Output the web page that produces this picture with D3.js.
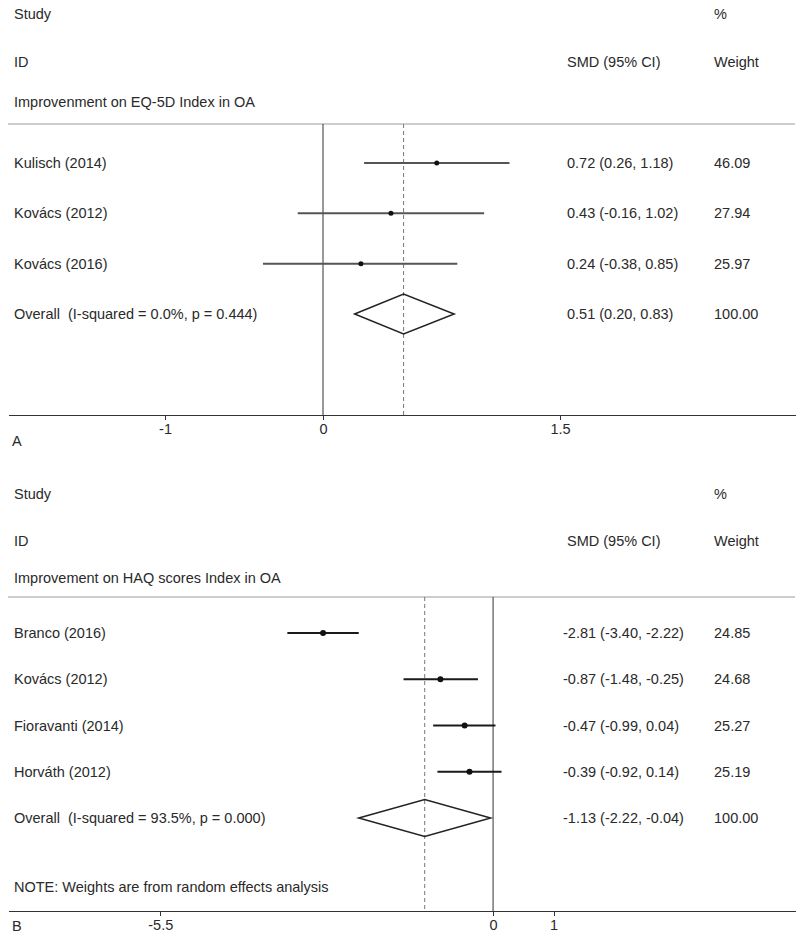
<!DOCTYPE html>
<html lang="en">
<head>
    <meta charset="UTF-8">
    <title>Forest plot</title>
    <script src="https://cdn.jsdelivr.net/npm/d3@7"></script>
</head>
<body>
<style>
    body {
        margin: 0;
        background-color: white;
    }
    svg text {
        font-family: "Liberation Sans", Arial, sans-serif;
        font-size: 14.5px;
        fill: #2a2a2a;
        white-space: pre;
    }
    .sep {
        stroke: #bdbdbd;
        stroke-width: 1.5;
    }
    .axis path,
    .axis line {
        stroke: #333;
        shape-rendering: crispEdges;
    }
    .zero {
        stroke: #333;
        stroke-width: 1;
    }
    .overallLine {
        stroke: #777;
        stroke-dasharray: 4, 3;
    }
    .diamond {
        fill: none;
        stroke: #222;
        stroke-width: 1.5;
    }
</style>

<svg width="800" height="937"></svg>

<script>
    // panel A - EQ-5D
    var studiesA = ["Kulisch (2014)", "Kovács (2012)", "Kovács (2016)"];
    var smdA = [0.72, 0.43, 0.24];
    var lowA = [0.26, -0.16, -0.38];
    var highA = [1.18, 1.02, 0.85];
    var weightA = [46.09, 27.94, 25.97];
    var overallA = [0.51, 0.20, 0.83];
    var overallLabelA = "Overall  (I-squared = 0.0%, p = 0.444)";
    var ticksA = [-1, 0, 1.5];

    // panel B - HAQ
    var studiesB = ["Branco (2016)", "Kovács (2012)", "Fioravanti (2014)", "Horváth (2012)"];
    var smdB = [-2.81, -0.87, -0.47, -0.39];
    var lowB = [-3.40, -1.48, -0.99, -0.92];
    var highB = [-2.22, -0.25, 0.04, 0.14];
    var weightB = [24.85, 24.68, 25.27, 25.19];
    var overallB = [-1.13, -2.22, -0.04];
    var overallLabelB = "Overall  (I-squared = 93.5%, p = 0.000)";
    var ticksB = [-5.5, 0, 1];

    var svg = d3.select("svg");

    // plain hyphen minus, like the stata output
    function f2(v) {
        return v.toFixed(2);
    }

    function ciText(m, lo, hi) {
        return f2(m) + " (" + f2(lo) + ", " + f2(hi) + ")";
    }

    function drawPanel(p) {
        var g = svg.append("g").attr("transform", "translate(0," + p.top + ")");
        var x = d3.scaleLinear().domain(p.domain).range([8, 795]);
        var rows = p.studies.concat([p.overallLabel]);
        var y = d3.scalePoint().domain(d3.range(rows.length)).range(p.rowRange);

        // headers
        g.append("text").attr("x", 14).attr("y", 14).attr("dy", "0.35em").text("Study");
        g.append("text").attr("x", 714).attr("y", 14).attr("dy", "0.35em").text("%");
        g.append("text").attr("x", 14).attr("y", p.idY).attr("dy", "0.35em").text("ID");
        g.append("text").attr("x", 567).attr("y", p.idY).attr("dy", "0.35em").text("SMD (95% CI)");
        g.append("text").attr("x", 714).attr("y", p.idY).attr("dy", "0.35em").text("Weight");
        g.append("text").attr("x", 14).attr("y", p.subY).attr("dy", "0.35em").text(p.subtitle);

        g.append("line").attr("class", "sep")
                .attr("x1", 8).attr("x2", 795)
                .attr("y1", p.sepY).attr("y2", p.sepY);

        // zero line and overall effect line
        g.append("line").attr("class", "zero")
                .attr("x1", x(0)).attr("x2", x(0))
                .attr("y1", p.sepY).attr("y2", p.axisY);
        g.append("line").attr("class", "overallLine")
                .attr("x1", x(p.overall[0])).attr("x2", x(p.overall[0]))
                .attr("y1", p.sepY).attr("y2", p.axisY);

        // confidence intervals
        p.studies.forEach(function (s, i) {
            g.append("line")
                    .attr("x1", x(p.low[i])).attr("x2", x(p.high[i]))
                    .attr("y1", y(i)).attr("y2", y(i))
                    .attr("stroke", p.ciColor)
                    .attr("stroke-width", 2);
            g.append("circle")
                    .attr("cx", x(p.smd[i])).attr("cy", y(i))
                    .attr("r", p.dotR)
                    .attr("fill", "#111");
        });

        // diamond
        var oy = y(p.studies.length);
        var o = p.overall;
        g.append("path").attr("class", "diamond")
                .attr("d", "M" + x(o[1]) + "," + oy +
                        "L" + x(o[0]) + "," + (oy - p.dh) +
                        "L" + x(o[2]) + "," + oy +
                        "L" + x(o[0]) + "," + (oy + p.dh) + "Z");

        // labels and numbers
        rows.forEach(function (r, i) {
            var isOverall = i === p.studies.length;
            g.append("text").attr("x", 14).attr("y", y(i)).attr("dy", "0.35em").text(r);
            g.append("text").attr("x", p.ciX).attr("y", y(i)).attr("dy", "0.35em")
                    .text(isOverall ? ciText(o[0], o[1], o[2]) : ciText(p.smd[i], p.low[i], p.high[i]));
            g.append("text").attr("x", 714).attr("y", y(i)).attr("dy", "0.35em")
                    .text(isOverall ? "100.00" : f2(p.weight[i]));
        });

        if (p.note) {
            g.append("text").attr("x", 14).attr("y", p.noteY).attr("dy", "0.35em").text(p.note);
        }

        // axis
        var axis = d3.axisBottom(x).tickValues(p.ticks).tickSize(5).tickSizeOuter(0)
                .tickPadding(4)
                .tickFormat(function (d) { return d; });
        var ax = g.append("g").attr("class", "axis")
                .attr("transform", "translate(0," + p.axisY + ")")
                .call(axis);
        ax.selectAll("text").attr("fill", "#2a2a2a").attr("font-family", null).attr("font-size", null);
        ax.select(".domain").attr("stroke-width", 1.5);

        g.append("text").attr("x", 12).attr("y", p.axisY + p.letterDy).attr("dy", "0.35em").text(p.letter);
    }

    drawPanel({
        top: 0, domain: [-1.9937, 2.9873],
        studies: studiesA, smd: smdA, low: lowA, high: highA, weight: weightA,
        overall: overallA, overallLabel: overallLabelA, ticks: ticksA,
        subtitle: "Improvenment on EQ-5D Index in OA",
        idY: 62, subY: 102, sepY: 124, axisY: 415,
        rowRange: [163, 314], dh: 20, dotR: 2.5, ciColor: "#555", ciX: 567,
        letter: "A", letterDy: 26
    });

    drawPanel({
        top: 480, domain: [-8.017, 4.99],
        studies: studiesB, smd: smdB, low: lowB, high: highB, weight: weightB,
        overall: overallB, overallLabel: overallLabelB, ticks: ticksB,
        subtitle: "Improvement on HAQ scores Index in OA",
        idY: 61, subY: 98, sepY: 117, axisY: 431,
        rowRange: [153, 338], dh: 18.5, dotR: 3, ciColor: "#1a1a1a", ciX: 563,
        note: "NOTE: Weights are from random effects analysis", noteY: 407,
        letter: "B", letterDy: 15
    });
</script>
</body>
</html>
